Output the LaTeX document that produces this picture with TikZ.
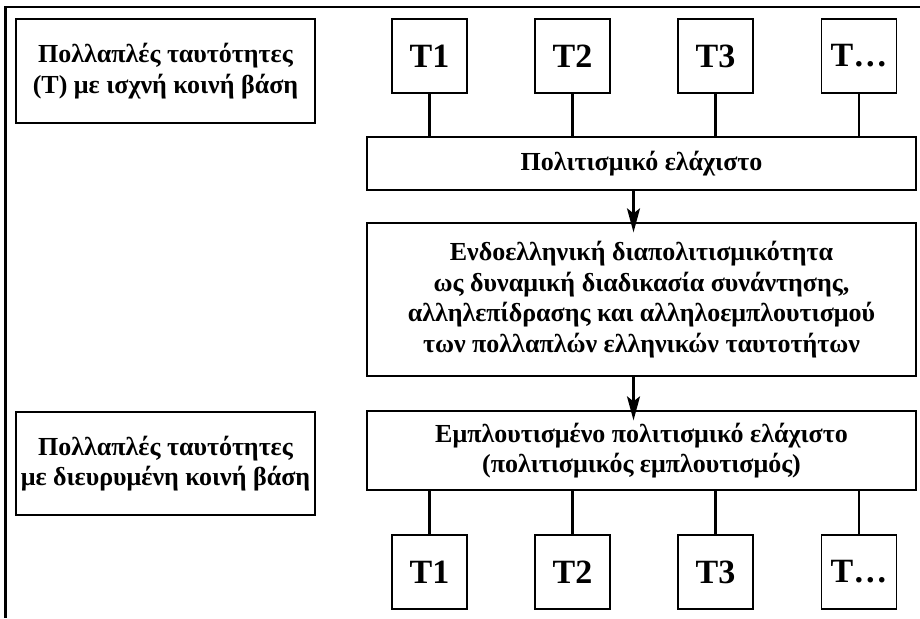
\documentclass[tikz,border=0pt]{standalone}
\usepackage{fontspec}
\setmainfont{Liberation Serif}
\usetikzlibrary{arrows.meta}
\begin{document}
\begin{tikzpicture}[x=1pt,y=-1pt,
  box/.style={draw=black,line width=1.3pt,inner sep=0pt,align=center,
    font=\bfseries\fontsize{26}{30.5}\selectfont},
  tbox/.style={draw=black,line width=1.3pt,inner sep=0pt,minimum width=75pt,minimum height=74pt,
    font=\bfseries\fontsize{34}{38}\selectfont},
  conn/.style={line width=2.2pt},
  arr/.style={line width=2.2pt,-{Stealth[length=24pt,width=13pt,inset=5pt]},shorten >=-10pt}]
\useasboundingbox (0,0) rectangle (920,618);
\draw[line width=2.6pt] (920,7) -- (5.5,7) -- (5.5,618);
% left labels
\node[box,minimum width=299pt,minimum height=104pt] (lab1) at (165.5,71)
  {Πολλαπλές ταυτότητες\\(Τ) με ισχνή κοινή βάση};
\node[box,minimum width=299pt,minimum height=103pt] (lab2) at (165.5,463.5)
  {Πολλαπλές ταυτότητες\\με διευρυμένη κοινή βάση};
% top identities
\node[tbox] (a1) at (429.5,56) {Τ1};
\node[tbox] (a2) at (572.5,56) {Τ2};
\node[tbox] (a3) at (715.5,56) {Τ3};
\node[tbox] (a4) at (859,56) {Τ…};
% central boxes
\node[box,minimum width=549pt,minimum height=53pt] (min) at (641.5,163.5) {Πολιτισμικό ελάχιστο};
\node[box,minimum width=549pt,minimum height=153pt] (inter) at (641.5,299.5)
  {Ενδοελληνική διαπολιτισμικότητα\\ως δυναμική διαδικασία συνάντησης,\\αλληλεπίδρασης και αλληλοεμπλουτισμού\\των πολλαπλών ελληνικών ταυτοτήτων};
\node[box,minimum width=549pt,minimum height=79pt] (rich) at (641.5,450.5)
  {Εμπλουτισμένο πολιτισμικό ελάχιστο\\(πολιτισμικός εμπλουτισμός)};
% bottom identities
\node[tbox] (b1) at (429.5,572) {Τ1};
\node[tbox] (b2) at (572.5,572) {Τ2};
\node[tbox] (b3) at (715.5,572) {Τ3};
\node[tbox] (b4) at (859,572) {Τ…};
% connectors
\foreach \n in {a1,a2,a3,a4}{\draw[conn] (\n.south) -- (\n.south |- min.north);}
\foreach \n in {b1,b2,b3,b4}{\draw[conn] (\n.north) -- (\n.north |- rich.south);}
\draw[arr] ([xshift=-8pt]min.south) -- ([xshift=-8pt]inter.north);
\draw[arr] ([xshift=-8pt]inter.south) -- ([xshift=-8pt]rich.north);
\end{tikzpicture}
\end{document}
